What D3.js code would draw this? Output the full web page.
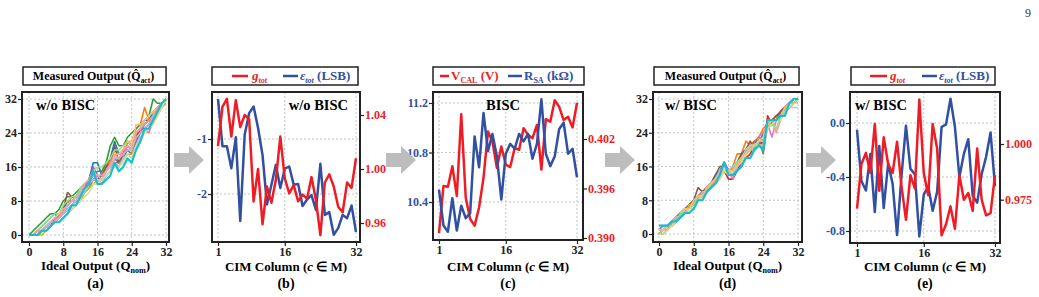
<!DOCTYPE html>
<html>
<head>
<meta charset="utf-8">
<script src="https://cdnjs.cloudflare.com/ajax/libs/d3/7.8.5/d3.min.js"></script>
<style>
  body { margin: 0; background: #fff; }
  text { font-family: "Liberation Serif", "Times New Roman", serif; font-weight: bold; }
</style>
</head>
<body>
<div id="chart"></div>
<script>
var svgWidth = 1039;
var svgHeight = 297;

var RED = "#ee1d25";
var BLUE = "#3150a2";
var GRID = "#c4c4c4";

// ---- data ----
var idealOutput = d3.range(0, 33);      // Q_nom 0..32
var cimColumns = d3.range(1, 33);       // c = 1..32

var qTicks = [0, 8, 16, 24, 32];
var colTicks = [1, 16, 32];

// (a) measured output w/o BISC, one array per column
var woColors = ["#1f77b4", "#ff7f0e", "#2ca02c", "#d62728", "#9467bd", "#8c564b", "#e377c2", "#7f7f7f",
  "#bcbd22", "#98df8a", "#ffbb78", "#aec7e8", "#ff9896", "#c5b0d5", "#dbdb8d", "#17becf"];
var woLines = [
  [0,0,1,2,3,4,5,4,6,8,8,9,11,12,13,17,17,14,16,18,22,19,19,22,21,24,25,27,27,29,30,31,32],
  [0,0,0,1,2,3,3,5,6,7,9,9,10,11,13,14,13,14,17,17,20,19,20,22,22,25,26,30,27,28,30,31,32],
  [0,1,2,3,4,5,5,6,8,9,9,10,11,12,13,14,15,15,17,21,23,21,21,23,24,25,26,27,28,32,31,31,32],
  [0,0,0,1,2,2,4,4,5,6,7,8,9,11,12,13,14,13,15,16,18,17,19,21,20,23,25,25,26,28,29,30,32],
  [0,0,1,1,2,3,4,5,5,7,8,8,10,11,13,16,14,13,15,17,18,18,19,20,19,23,24,26,27,28,29,31,32],
  [0,0,1,1,2,3,4,4,6,10,9,9,10,11,12,13,13,14,16,17,21,17,19,22,21,23,25,26,27,28,29,30,32],
  [0,0,0,1,1,2,3,4,5,6,7,8,9,10,12,13,14,14,15,16,18,18,19,21,20,22,24,25,24,27,29,30,32],
  [0,0,0,1,2,2,3,4,5,6,7,8,9,10,11,13,13,12,14,15,17,17,18,20,19,22,24,25,26,27,29,30,32],
  [0,0,0,0,1,2,3,3,4,5,6,7,8,10,11,12,13,13,14,15,17,16,18,19,19,21,23,24,25,27,28,30,31],
  [0,0,1,2,3,4,5,5,7,8,9,9,11,12,13,15,16,16,17,18,20,20,21,22,22,24,25,27,28,29,30,31,32],
  [0,0,1,1,2,3,4,5,6,7,8,9,10,11,12,14,13,13,15,16,19,19,20,22,21,26,26,27,28,29,30,31,32],
  [0,0,0,1,2,2,3,4,5,6,7,8,9,10,12,13,13,12,14,15,17,16,18,19,18,21,23,24,25,27,29,30,32],
  [0,0,1,1,2,3,3,4,6,7,8,9,10,12,13,15,14,14,15,17,19,18,20,21,20,24,25,26,27,28,30,31,32],
  [0,0,0,1,2,3,4,4,5,7,8,8,10,11,12,14,14,13,15,16,18,18,19,20,20,23,24,25,26,28,29,30,32],
  [0,0,0,1,1,2,3,3,4,5,6,7,8,9,10,12,12,13,14,15,16,16,17,19,18,21,22,24,25,26,28,30,32],
  [0,0,0,1,1,2,3,3,4,5,7,7,9,11,12,15,12,12,13,14,17,15,16,18,17,20,22,25,25,27,29,31,32]
];

// (d) measured output w/ BISC
var wColors = ["#1f77b4", "#ff7f0e", "#2ca02c", "#d62728", "#9467bd", "#8c564b", "#e377c2", "#7f7f7f",
  "#bcbd22", "#aec7e8", "#ff9896", "#c5b0d5", "#dbdb8d", "#98df8a", "#ffbb78", "#17becf"];
var wLines = [
  [0,1,2,2,4,5,5,6,8,9,10,10,12,13,14,17,15,15,16,18,20,21,22,21,24,25,26,27,29,30,31,32,32],
  [1,1,2,3,4,4,6,7,7,9,10,11,12,13,14,15,14,16,19,19,22,21,22,23,25,26,27,28,28,30,31,32,32],
  [0,0,1,3,4,5,6,6,7,9,9,11,12,13,15,16,15,16,17,19,20,20,21,23,22,25,26,27,28,29,30,31,31],
  [1,1,2,3,3,4,5,6,7,8,10,10,11,13,14,15,13,13,15,17,18,19,21,22,20,28,26,27,29,30,31,32,32],
  [1,2,2,3,4,5,6,7,8,8,9,11,12,14,15,17,15,15,17,18,19,20,22,22,21,26,27,27,29,30,31,32,32],
  [0,1,2,2,3,4,5,7,8,11,10,11,12,14,16,16,15,15,17,19,20,22,20,21,22,26,27,28,29,30,31,31,32],
  [0,1,1,3,3,4,6,6,7,8,9,10,12,13,14,16,15,13,16,18,19,21,20,23,24,26,23,27,28,29,31,32,32],
  [1,1,2,2,4,5,6,6,8,8,9,11,12,13,14,15,15,15,16,18,19,21,21,22,19,26,26,27,28,29,30,31,31],
  [0,0,1,2,3,4,5,7,7,8,9,10,11,12,13,15,14,15,17,18,19,20,20,21,21,25,26,27,28,29,31,31,31],
  [2,2,2,3,4,4,5,6,7,8,9,10,12,13,15,16,15,16,17,18,20,21,21,22,22,26,27,27,28,29,30,30,30],
  [1,1,2,3,4,4,5,6,7,8,9,10,11,13,14,15,14,15,16,17,19,20,21,22,22,26,27,24,27,29,30,31,32],
  [1,1,2,2,4,4,5,6,7,8,10,10,11,12,14,15,15,14,16,18,19,20,20,22,22,25,26,27,28,29,30,31,32],
  [0,0,1,2,3,4,5,6,6,8,9,10,11,12,13,15,14,15,16,17,19,20,21,21,21,25,26,27,27,29,30,31,31],
  [0,1,2,3,3,5,6,6,7,9,9,10,12,13,14,16,15,15,17,18,19,20,21,22,22,26,26,25,28,29,31,31,32],
  [1,1,2,3,3,4,6,6,8,9,9,11,12,13,14,16,15,15,16,18,19,21,21,22,23,26,27,27,28,30,31,32,32],
  [2,2,2,3,3,4,5,5,6,8,8,10,11,12,14,17,14,14,15,16,18,18,20,21,20,27,27,27,28,28,31,32,32]
];

// (b) w/o BISC
var gTotWo = [1.017,1.046,1.052,1.024,1.051,1.031,1.040,1.037,0.976,1.000,0.959,0.987,0.975,0.992,1.024,0.993,
  0.982,0.988,0.976,0.981,0.978,0.994,0.977,0.951,0.990,0.996,0.987,0.972,0.968,0.990,0.986,1.008];
var epsTotWo = [-0.27,-1.13,-1.13,-1.53,-0.97,-2.49,-0.92,-0.53,-0.41,-0.80,-1.29,-2.19,-1.83,-1.47,-1.89,-1.54,
  -1.50,-1.83,-1.82,-2.22,-2.10,-2.02,-2.29,-1.45,-2.38,-2.33,-2.74,-2.62,-2.38,-2.44,-2.21,-2.69];
var epsWoTicks = [-1, -2];
var gWoTicks = [1.04, 1.00, 0.96];

// (c) BISC calibration values
var vCal = [0.3906,0.3963,0.3962,0.3987,0.3951,0.4050,0.3949,0.3923,0.3915,0.3937,0.3973,0.4029,0.4017,0.3985,0.4011,0.3989,
  0.3986,0.4009,0.4007,0.4033,0.4025,0.4021,0.4037,0.3983,0.4044,0.4041,0.4067,0.4059,0.4043,0.4047,0.4034,0.4064];
var rSa = [10.50,10.21,10.16,10.43,10.17,10.37,10.27,10.31,10.93,10.68,11.12,10.81,10.95,10.77,10.42,10.79,
  10.87,10.83,10.95,10.89,10.95,10.75,10.87,11.23,10.79,10.69,10.77,10.99,11.04,10.79,10.83,10.60];
var rSaTicks = [10.4, 10.8, 11.2];
var vCalTicks = [0.390, 0.396, 0.402];

// (e) w/ BISC
var gTotW = [0.971,0.991,0.996,0.987,1.009,0.979,1.003,0.991,0.987,1.001,0.981,0.966,0.986,0.980,1.020,0.987,
  0.977,1.009,0.998,0.959,0.964,0.972,0.962,0.986,0.975,0.978,0.970,0.998,0.975,0.968,0.969,0.986];
var epsTotW = [-0.05,-0.43,-0.50,-0.23,-0.66,-0.17,-0.63,-0.30,-0.45,-0.83,-0.39,-0.02,-0.34,-0.38,-0.84,-0.53,
  -0.47,-0.65,-0.51,-0.03,-0.01,0.18,-0.03,-0.40,-0.23,-0.12,-0.54,-0.59,-0.38,-0.25,-0.07,-0.47];
var epsWTicks = [0.0, -0.4, -0.8];
var gWTicks = [1.000, 0.975];

// ---- svg ----
var svg = d3.select("#chart")
  .append("svg")
  .attr("width", svgWidth)
  .attr("height", svgHeight);

// page number
svg.append("text").attr("x", 1025).attr("y", 17).attr("font-size", 12)
  .style("font-weight", "normal").attr("fill", "#333").text("9");

// rich text with subscripts
function richText(g, x, y, size, parts, anchor) {
  var t = g.append("text").attr("x", x).attr("y", y).attr("font-size", size)
    .attr("text-anchor", anchor || "start");
  var shift = 0;
  parts.forEach(function(p) {
    var target = p.sub ? 3 : 0;
    var ts = t.append("tspan").text(p.t).attr("dy", target - shift);
    shift = target;
    if (p.sub) ts.attr("font-size", size * 0.62);
    if (p.italic) ts.attr("font-style", "italic");
    if (p.fill) ts.attr("fill", p.fill);
  });
  return t;
}

function legendBox(x0, x1) {
  svg.append("rect").attr("x", x0).attr("y", 67).attr("width", x1 - x0).attr("height", 18)
    .attr("fill", "#fff").attr("stroke", "#222").attr("stroke-width", 1.5);
}

function legendSwatch(x0, x1, color) {
  svg.append("line").attr("x1", x0).attr("x2", x1).attr("y1", 76).attr("y2", 76)
    .attr("stroke", color).attr("stroke-width", 2.5);
}

function frame(x0, y0, x1, y1) {
  svg.append("rect").attr("x", x0).attr("y", y0).attr("width", x1 - x0).attr("height", y1 - y0)
    .attr("fill", "none").attr("stroke", "#222").attr("stroke-width", 2);
}

function styleAxis(g, color) {
  g.select(".domain").remove();
  g.selectAll(".tick line").attr("stroke", "#222").attr("stroke-width", 1.2);
  g.selectAll(".tick text")
    .attr("font-family", "Liberation Serif, Times New Roman, serif")
    .attr("font-weight", "bold")
    .attr("font-size", 12)
    .attr("fill", color || "#222");
}

function vGrid(x, ticks, y0, y1) {
  svg.append("g").selectAll("line").data(ticks).enter().append("line")
    .attr("x1", d => x(d)).attr("x2", d => x(d)).attr("y1", y0).attr("y2", y1)
    .attr("stroke", GRID).attr("stroke-dasharray", "2,2");
}

function hGrid(y, ticks, x0, x1) {
  svg.append("g").selectAll("line").data(ticks).enter().append("line")
    .attr("y1", d => y(d)).attr("y2", d => y(d)).attr("x1", x0).attr("x2", x1)
    .attr("stroke", GRID).attr("stroke-dasharray", "2,2");
}

function arrow(x0, cy) {
  var pts = [[x0, cy - 7], [x0 + 15, cy - 7], [x0 + 15, cy - 14], [x0 + 30, cy],
    [x0 + 15, cy + 14], [x0 + 15, cy + 7], [x0, cy + 7]];
  svg.append("polygon").attr("points", pts.map(p => p.join(",")).join(" ")).attr("fill", "#bdbdbd");
}

// ---- measured-output bundle panels (a), (d) ----
function bundlePanel(box, xr, yr, lines, colors, tag, tagX, letter) {
  var x = d3.scaleLinear().domain([0, 32]).range(xr);
  var y = d3.scaleLinear().domain([0, 32]).range(yr);

  vGrid(x, qTicks, box[1], box[3]);
  hGrid(y, qTicks, box[0], box[2]);

  var line = d3.line().x((d, i) => x(idealOutput[i])).y(d => y(d));
  svg.append("g").selectAll("path").data(lines).enter().append("path")
    .attr("d", line)
    .attr("fill", "none")
    .attr("stroke", (d, i) => colors[i])
    .attr("stroke-width", (d, i) => i === lines.length - 1 ? 2.2 : 1.6)
    .attr("stroke-linejoin", "round");

  frame(box[0], box[1], box[2], box[3]);

  var gx = svg.append("g").attr("transform", `translate(0, ${box[3]})`)
    .call(d3.axisBottom(x).tickValues(qTicks).tickSize(4).tickPadding(1));
  styleAxis(gx);
  var gy = svg.append("g").attr("transform", `translate(${box[0]}, 0)`)
    .call(d3.axisLeft(y).tickValues(qTicks).tickSize(4).tickPadding(1));
  styleAxis(gy);

  svg.append("text").attr("x", tagX).attr("y", 110).attr("font-size", 14.5).text(tag);

  var cx = (box[0] + box[2]) / 2;
  legendBox(box[0] + 1, box[0] + (box[2] - box[0]) * 0.98);
  richText(svg, cx - 2, 80, 12, [
    {t: "Measured Output  ("}, {t: "Q\u0302"}, {t: "act", sub: true}, {t: ")"}
  ], "middle");

  richText(svg, cx, 270, 13, [{t: "Ideal Output (Q"}, {t: "nom", sub: true}, {t: ")"}], "middle");
  svg.append("text").attr("x", cx).attr("y", 288).attr("font-size", 14)
    .attr("text-anchor", "middle").text(letter);
}

bundlePanel([22, 92, 169, 242], [29, 166], [235, 99], woLines, woColors, "w/o BISC", 36, "(a)");
bundlePanel([653, 92, 802, 242], [659, 798], [234, 99], wLines, wColors, "w/ BISC", 665, "(d)");

// ---- dual-axis panels (b), (c), (e) ----
function dualPanel(cfg) {
  var box = cfg.box;
  var x = d3.scaleLinear().domain([1, 32]).range(cfg.xr);
  var yL = d3.scaleLinear().domain(cfg.lDom).range(cfg.lRange);
  var yR = d3.scaleLinear().domain(cfg.rDom).range(cfg.rRange);

  vGrid(x, colTicks, box[1], box[3]);
  hGrid(yL, cfg.lTicks, box[0], box[2]);

  var lineL = d3.line().x((d, i) => x(cimColumns[i])).y(d => yL(d));
  var lineR = d3.line().x((d, i) => x(cimColumns[i])).y(d => yR(d));

  var order = cfg.redFirst ? ["r", "l"] : ["l", "r"];
  order.forEach(function(k) {
    svg.append("path")
      .datum(k === "l" ? cfg.lData : cfg.rData)
      .attr("d", k === "l" ? lineL : lineR)
      .attr("fill", "none")
      .attr("stroke", k === "l" ? BLUE : RED)
      .attr("stroke-width", 2.5)
      .attr("stroke-linejoin", "round");
  });

  frame(box[0], box[1], box[2], box[3]);

  var gx = svg.append("g").attr("transform", `translate(0, ${box[3]})`)
    .call(d3.axisBottom(x).tickValues(colTicks).tickSize(4).tickPadding(1));
  styleAxis(gx);
  var gl = svg.append("g").attr("transform", `translate(${box[0]}, 0)`)
    .call(d3.axisLeft(yL).tickValues(cfg.lTicks).tickSize(4).tickPadding(1).tickFormat(cfg.lFmt));
  styleAxis(gl, BLUE);
  var gr = svg.append("g").attr("transform", `translate(${box[2]}, 0)`)
    .call(d3.axisRight(yR).tickValues(cfg.rTicks).tickSize(4).tickPadding(1).tickFormat(cfg.rFmt));
  styleAxis(gr, RED);

  svg.append("text").attr("x", cfg.tagX).attr("y", 110).attr("font-size", 14.5)
    .attr("text-anchor", cfg.tagAnchor).text(cfg.tag);

  var cx = (box[0] + box[2]) / 2;
  richText(svg, cx, 271, 13, [{t: "CIM Column ("}, {t: "c", italic: true}, {t: " \u2208 M)"}], "middle");
  svg.append("text").attr("x", cx).attr("y", 288).attr("font-size", 14)
    .attr("text-anchor", "middle").text(cfg.letter);
}

function fixed(n) { return d => d.toFixed(n); }

dualPanel({
  box: [212, 92, 360, 242], xr: [218, 356],
  lDom: [-1, -2], lRange: [139, 194], lTicks: epsWoTicks, lFmt: fixed(0), lData: epsTotWo,
  rDom: [1.04, 0.96], rRange: [115, 223], rTicks: gWoTicks, rFmt: fixed(2), rData: gTotWo,
  tag: "w/o BISC", tagX: 348, tagAnchor: "end", letter: "(b)"
});

dualPanel({
  box: [433, 92, 583, 240], xr: [439, 577],
  lDom: [11.2, 10.4], lRange: [103, 202], lTicks: rSaTicks, lFmt: fixed(1), lData: rSa,
  rDom: [0.402, 0.390], rRange: [139, 238], rTicks: vCalTicks, rFmt: fixed(3), rData: vCal,
  tag: "BISC", tagX: 503, tagAnchor: "middle", letter: "(c)", redFirst: true
});

dualPanel({
  box: [850, 92, 1000, 243], xr: [857, 995],
  lDom: [0, -0.8], lRange: [123, 231], lTicks: epsWTicks, lFmt: fixed(1), lData: epsTotW,
  rDom: [1.000, 0.975], rRange: [144, 199.7], rTicks: gWTicks, rFmt: fixed(3), rData: gTotW,
  tag: "w/ BISC", tagX: 855, tagAnchor: "start", letter: "(e)"
});

// legends of the dual-axis panels
legendBox(212, 358);
legendSwatch(232, 248, RED);
richText(svg, 252, 80, 13, [{t: "g", italic: true, fill: RED}, {t: "tot", sub: true, italic: true, fill: RED}]);
legendSwatch(283, 298, BLUE);
richText(svg, 300, 80, 13, [{t: "\u03b5", italic: true, fill: BLUE}, {t: "tot", sub: true, italic: true, fill: BLUE},
  {t: " (LSB)", fill: BLUE}]);

legendBox(433, 584);
legendSwatch(440, 449, RED);
richText(svg, 451, 80, 13, [{t: "V", fill: RED}, {t: "CAL", sub: true, fill: RED}, {t: " (V)", fill: RED}]);
legendSwatch(508, 522, BLUE);
richText(svg, 524, 80, 13, [{t: "R", fill: BLUE}, {t: "SA", sub: true, fill: BLUE}, {t: " (k\u03a9)", fill: BLUE}]);

legendBox(851, 995);
legendSwatch(870, 887, RED);
richText(svg, 890, 80, 13, [{t: "g", italic: true, fill: RED}, {t: "tot", sub: true, italic: true, fill: RED}]);
legendSwatch(922, 937, BLUE);
richText(svg, 939, 80, 13, [{t: "\u03b5", italic: true, fill: BLUE}, {t: "tot", sub: true, italic: true, fill: BLUE},
  {t: " (LSB)", fill: BLUE}]);

// gray arrows between panels
arrow(174, 160);
arrow(386, 160);
arrow(605, 160);
arrow(806, 160);
</script>
</body>
</html>
